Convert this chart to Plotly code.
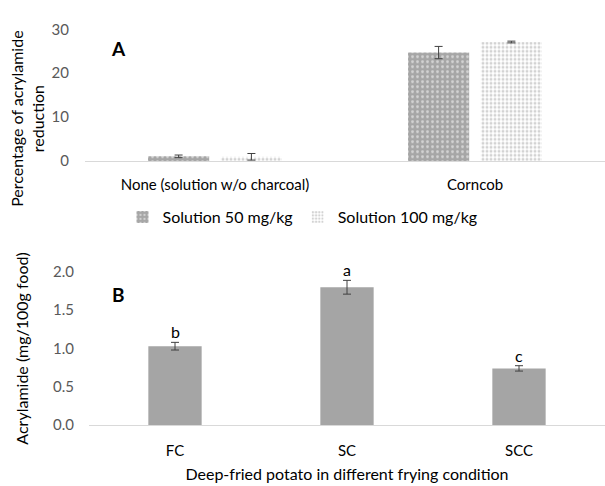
import plotly.graph_objects as go

# Panel A data
a_categories = ["None (solution w/o charcoal)", "Corncob"]
a_sol50 = [1.1, 24.7]
a_sol50_err = [0.3, 1.4]
a_sol100 = [1.0, 27.1]
a_sol100_err = [0.75, 0.2]

# Panel B data
b_categories = ["FC", "SC", "SCC"]
b_values = [1.03, 1.80, 0.74]
b_err = [0.05, 0.09, 0.035]
b_letters = ["b", "a", "c"]

FONT = "Lato"
TICK = "#595959"
AXLINE = "#d9d9d9"
ERR = "#404040"
W, H = 605, 486

fig = go.Figure()

fig.add_trace(go.Bar(
    x=a_categories, y=a_sol50, name="Solution 50 mg/kg",
    xaxis="x", yaxis="y",
    marker=dict(color="#a6a6a6", line=dict(width=0),
                pattern=dict(shape=".", fillmode="overlay", bgcolor="#a6a6a6",
                             fgcolor="white", size=5, solidity=0.25)),
    error_y=dict(type="data", array=a_sol50_err, color=ERR, thickness=1, width=4),
))
fig.add_trace(go.Bar(
    x=a_categories, y=a_sol100, name="Solution 100 mg/kg",
    xaxis="x", yaxis="y",
    marker=dict(color="white", line=dict(width=0),
                pattern=dict(shape=".", fillmode="overlay", bgcolor="white",
                             fgcolor="#a8a8a8", size=4, solidity=0.45)),
    error_y=dict(type="data", array=a_sol100_err, color=ERR, thickness=1, width=4),
))

fig.add_trace(go.Bar(
    x=b_categories, y=b_values, name="B", showlegend=False,
    xaxis="x2", yaxis="y2",
    marker=dict(color="#a5a5a5", line=dict(width=0)),
    error_y=dict(type="data", array=b_err, color=ERR, thickness=1, width=4),
    width=0.31,
))

annotations = []
for lab, px, py in [("A", 118, 40), ("B", 118, 295)]:
    annotations.append(dict(
        text="<b>%s</b>" % lab, x=px / W, y=1 - py / H, xref="paper", yref="paper",
        showarrow=False, xanchor="center", yanchor="middle",
        font=dict(family=FONT, size=19, color="black"),
    ))

# Panel A y-axis title (offset from the plot centre, as in the original)
annotations.append(dict(
    text="Percentage of acrylamide<br>reduction", x=27 / W, y=1 - 113 / H,
    xref="paper", yref="paper", showarrow=False, textangle=-90,
    xanchor="center", yanchor="middle",
    font=dict(family=FONT, size=16, color="black"),
))

for cat, v, e, lab in zip(b_categories, b_values, b_err, b_letters):
    annotations.append(dict(
        text=lab, x=cat, y=v + e, xref="x2", yref="y2", showarrow=False,
        yanchor="bottom", yshift=-1, font=dict(family=FONT, size=16, color="black"),
    ))

fig.update_layout(
    width=W, height=H,
    margin=dict(l=0, r=0, t=0, b=0),
    paper_bgcolor="white", plot_bgcolor="white",
    font=dict(family=FONT, size=15, color=TICK),
    barmode="group", bargap=0.44, bargroupgap=0.16,
    showlegend=True,
    legend=dict(orientation="h", x=0.5, xanchor="center", y=1 - 215 / H, yanchor="middle",
                font=dict(family=FONT, size=16, color="black"), itemwidth=30,
                bgcolor="rgba(0,0,0,0)"),
    xaxis=dict(domain=[85 / W, 1.0], anchor="y", showline=True, linecolor=AXLINE, linewidth=1,
               ticks="", ticklabelstandoff=10,
               tickfont=dict(family=FONT, size=15, color="black"), showgrid=False),
    yaxis=dict(domain=[1 - 157 / H, 1 - 20 / H], anchor="x", range=[0, 30], dtick=10,
               showgrid=False, zeroline=False, showline=False, ticks="", ticklabelstandoff=15,
               tickfont=dict(family=FONT, size=15, color=TICK)),
    xaxis2=dict(domain=[89 / W, 1.0], anchor="y2", showline=True, linecolor=AXLINE, linewidth=1,
                ticks="", ticklabelstandoff=12,
                tickfont=dict(family=FONT, size=15, color="black"), showgrid=False,
                title=dict(text="Deep-fried potato in different frying condition",
                           font=dict(family=FONT, size=16, color="black"), standoff=10)),
    yaxis2=dict(domain=[1 - 431 / H, 1 - 272 / H], anchor="x2", range=[0, 2], dtick=0.5,
                tickformat=".1f", showgrid=False, zeroline=False, showline=False, ticks="",
                ticklabelstandoff=14,
                tickfont=dict(family=FONT, size=15, color=TICK),
                title=dict(text="Acrylamide (mg/100g food)",
                           font=dict(family=FONT, size=16, color="black"), standoff=20)),
    annotations=annotations,
)

fig.write_html("out.html")
